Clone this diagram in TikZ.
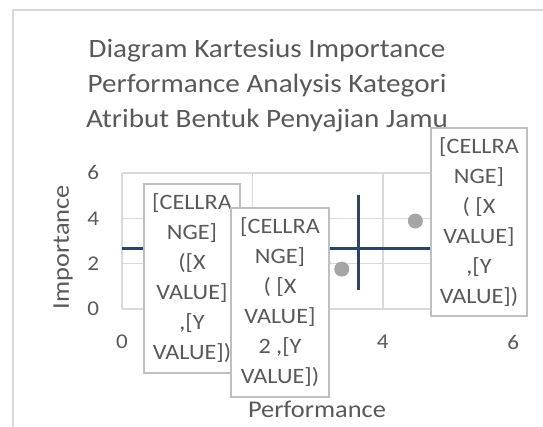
\documentclass[tikz,border=0pt]{standalone}
\usepackage{fontspec}
\setmainfont{Carlito}[FakeStretch=1.1]

\definecolor{txtgray}{HTML}{595959}
\definecolor{gridgray}{HTML}{D9D9D9}
\definecolor{boxgray}{HTML}{BFBFBF}
\definecolor{crossblue}{HTML}{2B4468}
\definecolor{dotgray}{HTML}{A5A5A5}

\tikzset{
    lblbox/.style={draw=boxgray, line width=1.3pt, fill=white, text=txtgray, align=center,
        font=\fontsize{22}{30}\selectfont, inner sep=0pt, minimum width=96pt, minimum height=189pt},
    ticklbl/.style={text=txtgray, font=\fontsize{21}{24}\selectfont, inner sep=0pt},
    axtitle/.style={text=txtgray, font=\fontsize{24}{28}\selectfont, inner sep=0pt},
    pt/.style={fill=dotgray, draw=none}
}

\begin{document}
\begin{tikzpicture}[x=1pt, y=-1pt]
            \useasboundingbox (0, 0) rectangle (543, 427);
            \draw[gridgray, line width=1.5pt] (13, 427) -- (13, 10) -- (543, 10);
            \node[text=txtgray, align=center, inner sep=0pt, anchor=north, font=\fontsize{26.5}{35}\selectfont]
                (title) at (267, 39.5) {Diagram Kartesius Importance\\Performance Analysis Kategori\\Atribut Bentuk Penyajian Jamu};

            \begin{scope}[shift={(122, 309)}, x=65.2pt, y=22.67pt]
                \def\cx{3.63}
                \def\cy{2.65}
                \foreach \i in {0, 2, 4, 6} {
                    \draw[gridgray, line width=1.5pt] (0, \i) -- (6, \i);
                    \draw[gridgray, line width=1.5pt] (\i, 0) -- (\i, 6);
                    \node[ticklbl] (y\i) at (-0.44, \i) {\i};
                }
                \node[ticklbl] (x0) at (0, -1.46) {0};
                \node[ticklbl] (x4) at (4, -1.46) {4};
                \node[ticklbl] (x6) at (6, -1.46) {6};

                % crosshair at the mean values
                \draw[crossblue, line width=3pt] (0, \cy) -- (6, \cy);
                \draw[crossblue, line width=3pt] (\cx, 0.84) -- (\cx, 5.03);

                \fill[pt] (4.5, 3.88) circle[radius=7.5pt];
                \fill[pt] (3.37, 1.76) circle[radius=7.5pt];
                \fill[pt] (3.08, 2.07) circle[radius=7.5pt];
            \end{scope}

            \node[lblbox] (lbla) at (192, 278.5) {[CELLRA\\NGE]\\([X\\VALUE]\\,[Y\\VALUE])};
            \node[lblbox, minimum width=98pt] (lblb) at (280, 302.5) {[CELLRA\\NGE]\\( [X\\VALUE]\\2 ,[Y\\VALUE])};
            \node[lblbox, minimum height=188pt] (lblc) at (479, 222) {[CELLRA\\NGE]\\( [X\\VALUE]\\,[Y\\VALUE])};

            \node[axtitle, rotate=90] (ytitle) at (63, 247) {Importance};
            \node[axtitle, anchor=base] (xtitle) at (317, 417) {Performance};
        \end{tikzpicture}
\end{document}
